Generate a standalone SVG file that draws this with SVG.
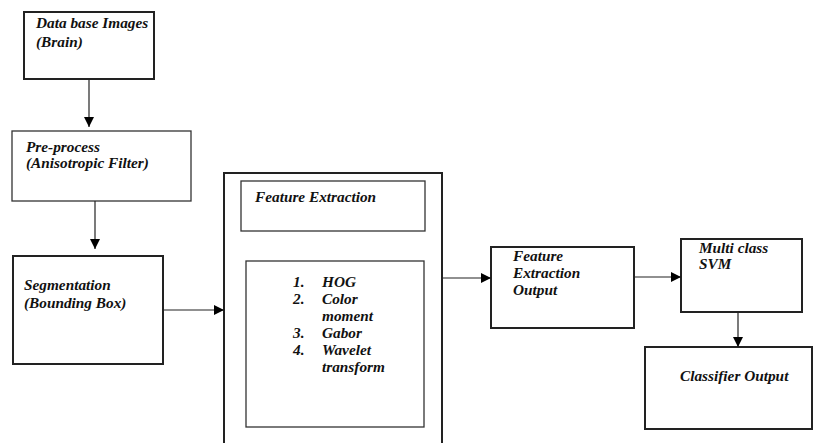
<svg xmlns="http://www.w3.org/2000/svg" width="813" height="443" viewBox="0 0 813 443">
<defs>
<marker id="ah" markerUnits="userSpaceOnUse" markerWidth="10" markerHeight="10" refX="10" refY="5" orient="auto">
<path d="M0,0 L10,5 L0,10 z" fill="#000"/>
</marker>
<style>
.box{fill:#fff;stroke:#222;stroke-width:2}
.thin{fill:#fff;stroke:#333;stroke-width:1.3}
.t{font-family:"Liberation Serif","Times New Roman",serif;font-weight:bold;font-style:italic;font-size:15.3px;fill:#111}
.c{fill:none;stroke:#222;stroke-width:1.2;marker-end:url(#ah)}
</style>
</defs>
<rect width="813" height="443" fill="#fff"/>
<g id="database">
<rect class="box" x="24" y="12" width="130" height="67"/>
<text class="t" x="36" y="28">Data base Images</text>
<text class="t" x="36" y="47">(Brain)</text>
</g>
<g id="preprocess">
<rect class="thin" x="12" y="131" width="179" height="70"/>
<text class="t" x="26" y="152">Pre-process</text>
<text class="t" x="26" y="168">(Anisotropic Filter)</text>
</g>
<g id="segmentation">
<rect class="box" x="13" y="256" width="150" height="108"/>
<text class="t" x="24" y="290">Segmentation</text>
<text class="t" x="24" y="308">(Bounding Box)</text>
</g>
<g id="feature-block">
<rect class="box" x="224" y="173" width="218" height="280"/>
</g>
<g id="feature-extraction">
<rect class="thin" x="241" y="181" width="184" height="50"/>
<text class="t" x="255" y="202">Feature Extraction</text>
</g>
<g id="methods">
<rect class="thin" x="246" y="261" width="178" height="166"/>
<text class="t" x="293" y="287">1.</text><text class="t" x="322" y="287">HOG</text>
<text class="t" x="293" y="304">2.</text><text class="t" x="322" y="304">Color</text>
<text class="t" x="322" y="321">moment</text>
<text class="t" x="293" y="338">3.</text><text class="t" x="322" y="338">Gabor</text>
<text class="t" x="293" y="355">4.</text><text class="t" x="322" y="355">Wavelet</text>
<text class="t" x="322" y="372">transform</text>
</g>
<g id="fe-output">
<rect class="box" x="491" y="247" width="143" height="81"/>
<text class="t" x="513" y="261">Feature</text>
<text class="t" x="513" y="278">Extraction</text>
<text class="t" x="513" y="295">Output</text>
</g>
<g id="svm">
<rect class="box" x="681" y="239" width="121" height="73"/>
<text class="t" x="699" y="253">Multi class</text>
<text class="t" x="699" y="269">SVM</text>
</g>
<g id="classifier-output">
<rect class="box" x="645" y="347" width="167" height="82"/>
<text class="t" x="680" y="381">Classifier Output</text>
</g>
<g id="connectors">
<line class="c" x1="89" y1="79" x2="89" y2="127"/>
<line class="c" x1="95" y1="201" x2="95" y2="249"/>
<line class="c" x1="163" y1="310" x2="224" y2="310"/>
<line class="c" x1="442" y1="278" x2="491" y2="278"/>
<line class="c" x1="634" y1="277" x2="681" y2="277"/>
<line class="c" x1="738" y1="312" x2="738" y2="347"/>
</g>
</svg>
